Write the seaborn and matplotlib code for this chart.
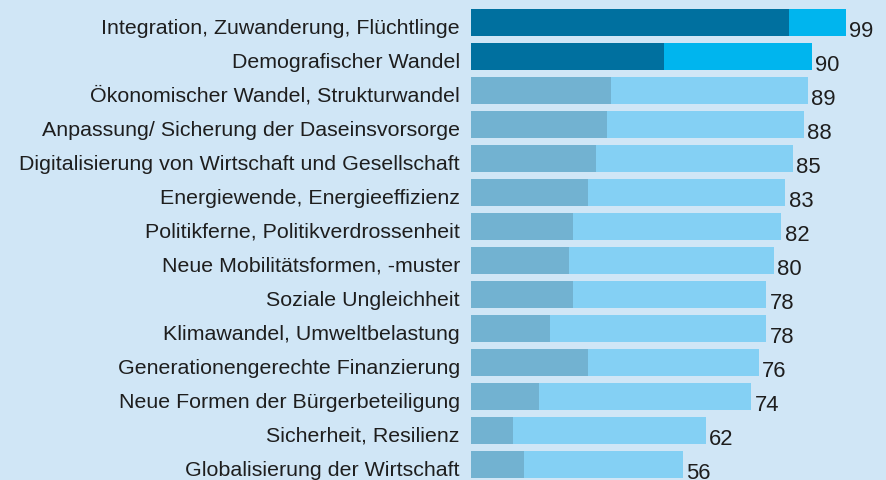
import matplotlib
matplotlib.use("Agg")
import matplotlib.pyplot as plt
import matplotlib.transforms as mtransforms
import seaborn as sns
import pandas as pd

# categories and values
themen = [
    "Integration, Zuwanderung, Flüchtlinge",
    "Demografischer Wandel",
    "Ökonomischer Wandel, Strukturwandel",
    "Anpassung/ Sicherung der Daseinsvorsorge",
    "Digitalisierung von Wirtschaft und Gesellschaft",
    "Energiewende, Energieeffizienz",
    "Politikferne, Politikverdrossenheit",
    "Neue Mobilitätsformen, -muster",
    "Soziale Ungleichheit",
    "Klimawandel, Umweltbelastung",
    "Generationengerechte Finanzierung",
    "Neue Formen der Bürgerbeteiligung",
    "Sicherheit, Resilienz",
    "Globalisierung der Wirtschaft",
]
gesamt = [99, 90, 89, 88, 85, 83, 82, 80, 78, 78, 76, 74, 62, 56]
stark = [84, 51, 37, 36, 33, 31, 27, 26, 27, 21, 31, 18, 11, 14]
highlight = 2  # first two bars are emphasised

bg = "#d0e6f6"
light_hl, dark_hl = "#00b5ee", "#00709f"
light, dark = "#84d0f4", "#72b2d1"
txt = "#1e1e1e"

df = pd.DataFrame({"thema": themen, "gesamt": gesamt, "stark": stark})

sns.set_theme(style="white")
plt.rcParams["font.family"] = ["Liberation Sans", "DejaVu Sans"]

fig = plt.figure(figsize=(8.87, 4.81), dpi=100, facecolor=bg)
ax = fig.add_axes([471 / 887, 0, 1 - 471 / 887, 1])
ax.set_facecolor(bg)

pal_light = {t: (light_hl if i < highlight else light) for i, t in enumerate(themen)}
pal_dark = {t: (dark_hl if i < highlight else dark) for i, t in enumerate(themen)}

sns.barplot(data=df, x="gesamt", y="thema", hue="thema", palette=pal_light,
            width=0.79, legend=False, ax=ax, saturation=1, linewidth=0)
sns.barplot(data=df, x="stark", y="thema", hue="thema", palette=pal_dark,
            width=0.79, legend=False, ax=ax, saturation=1, linewidth=0)

ax.set_xlim(0, (887 - 471) / 3.785)
ax.set_ylim((481 - 23.3) / 34, -23.3 / 34)

# value labels, baseline on the bar's bottom edge
for i, v in enumerate(gesamt):
    ax.text(v + 0.9, i + 0.395, str(v), va="baseline", ha="left",
            fontsize=15.8, color=txt)

ax.set_xlabel("")
ax.set_ylabel("")
ax.set_xticks([])
ax.tick_params(axis="y", length=0, pad=8, labelsize=15.4, labelcolor=txt)
shift = mtransforms.ScaledTranslation(0, -10.4 / 100, fig.dpi_scale_trans)
for lbl in ax.get_yticklabels():
    lbl.set_verticalalignment("baseline")
    lbl.set_transform(lbl.get_transform() + shift)
for s in ax.spines.values():
    s.set_visible(False)

fig.savefig("out.png", dpi=100, facecolor=bg)
